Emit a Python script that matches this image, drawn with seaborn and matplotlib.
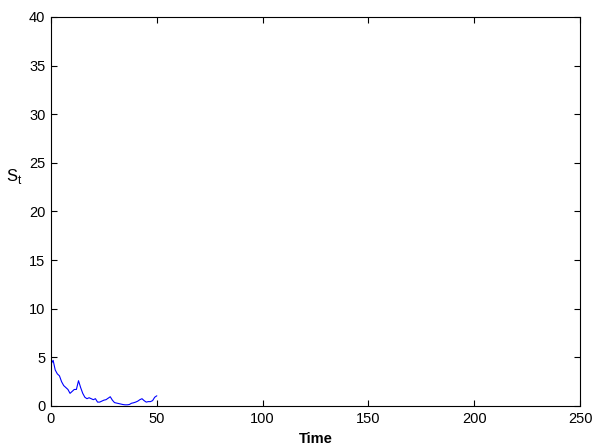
import matplotlib
matplotlib.use("Agg")
import matplotlib.pyplot as plt
import seaborn as sns
import pandas as pd

# ── Data ───────────────────────────────────────────────────────────────────────
time = list(range(0, 51))
s_t = [4.3, 4.7, 3.7, 3.3, 3.1, 2.5, 2.1, 1.9, 1.7, 1.3,
       1.5, 1.7, 1.7, 2.6, 1.9, 1.3, 0.9, 0.75, 0.85, 0.75,
       0.65, 0.75, 0.4, 0.4, 0.5, 0.6, 0.65, 0.8, 0.95, 0.6,
       0.35, 0.3, 0.25, 0.2, 0.15, 0.12, 0.12, 0.15, 0.28, 0.33,
       0.4, 0.5, 0.65, 0.75, 0.55, 0.4, 0.45, 0.45, 0.55, 0.9,
       1.05]
x_ticks = [0, 50, 100, 150, 200, 250]
y_ticks = [0, 5, 10, 15, 20, 25, 30, 35, 40]

df = pd.DataFrame({"Time": time, "S": s_t})

sns.set_style("white")
plt.rcParams["font.family"] = ["Liberation Sans", "DejaVu Sans"]
plt.rcParams["text.color"] = "black"
plt.rcParams["axes.labelcolor"] = "black"
plt.rcParams["xtick.color"] = "black"
plt.rcParams["ytick.color"] = "black"

fig = plt.figure(figsize=(5.95, 4.46), dpi=100)
ax = fig.add_axes([0.0857, 0.0897, 0.8893, 0.8723])

sns.lineplot(data=df, x="Time", y="S", ax=ax, color="#0000ff", linewidth=0.8)

ax.set_xlim(0, 250)
ax.set_ylim(0, 40)
ax.set_xticks(x_ticks)
ax.set_yticks(y_ticks)
ax.tick_params(direction="in", length=4, width=0.8, labelsize=10.5,
               top=True, right=True, bottom=True, left=True, pad=4)
for sp in ax.spines.values():
    sp.set_visible(True)
    sp.set_color("black")
    sp.set_linewidth(0.8)

ax.set_xlabel("Time", fontsize=10.5, labelpad=5, fontweight="bold")
ax.set_ylabel("S$_\\mathregular{t}$", fontsize=12, rotation=0)
ax.yaxis.set_label_coords(-0.07, 0.565)

fig.savefig("out.png", dpi=100)
